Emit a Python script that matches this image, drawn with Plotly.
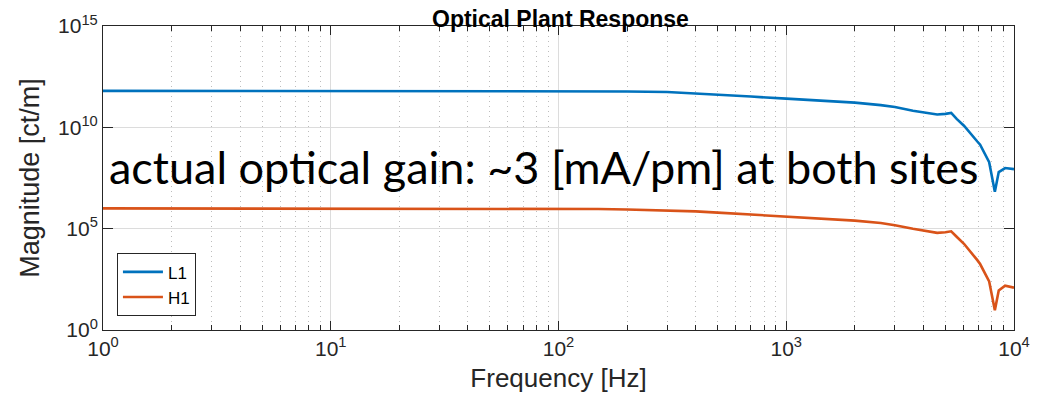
import plotly.graph_objects as go

# Frequency points [Hz]
freq = [1, 10, 100, 150, 200, 300, 400, 500, 700, 1000, 2000, 2600, 3000, 3600, 4100, 4600,
        5000, 5300, 5600, 6030, 6900, 7100, 7780, 7960, 8240, 8570, 9140, 10000]

# Magnitude [ct/m]
L1 = [6.3e11, 6.3e11, 6.2e11, 6.0e11, 5.9e11, 5.5e11, 4.7e11, 4.1e11, 3.3e11, 2.6e11,
      1.65e11, 1.25e11, 1.0e11, 6.6e10, 5.1e10, 4.3e10, 4.6e10, 5.1e10, 2.6e10, 1.2e10,
      2.0e9, 1.4e9, 1.9e8, 4.9e7, 6.6e6, 6.2e7, 9.8e7, 8.7e7]
H1 = [1.0e6, 1.0e6, 9.5e5, 9.3e5, 8.9e5, 8.1e5, 7.1e5, 6.2e5, 5.0e5, 3.8e5,
      2.5e5, 1.9e5, 1.48e5, 9.8e4, 7.4e4, 6.2e4, 6.6e4, 7.4e4, 4.0e4, 1.8e4,
      2.8e3, 1.8e3, 250, 71, 9.3, 89, 155, 123]

x_tickvals = [1, 10, 100, 1000, 10000]
x_ticktext = ["10<sup>0</sup>", "10<sup>1</sup>", "10<sup>2</sup>", "10<sup>3</sup>", "10<sup>4</sup>"]
y_tickvals = [1, 1e5, 1e10, 1e15]
y_ticktext = ["10<sup>0</sup>", "10<sup>5</sup>", "10<sup>10</sup>", "10<sup>15</sup>"]

title_text = "Optical Plant Response"
xlabel = "Frequency [Hz]"
ylabel = "Magnitude [ct/m]"
note_text = "actual optical gain: ~3 [mA/pm] at both sites"

AX = "#262626"
FONT = "Liberation Sans, Arial, Helvetica, sans-serif"

fig = go.Figure()
fig.add_trace(go.Scatter(x=freq, y=L1, mode="lines", name="L1",
                         line=dict(color="#0072BD", width=2.6)))
fig.add_trace(go.Scatter(x=freq, y=H1, mode="lines", name="H1",
                         line=dict(color="#D95319", width=2.6)))

fig.update_layout(
    width=1042, height=399,
    margin=dict(l=103, r=25, t=22, b=69),
    paper_bgcolor="white", plot_bgcolor="white",
    font=dict(family=FONT, color=AX, size=22),
    showlegend=True,
    legend=dict(x=0.0153, y=0.045, xanchor="left", yanchor="bottom",
                bgcolor="white", bordercolor=AX, borderwidth=1,
                font=dict(size=17, color="black"),
                tracegroupgap=0, itemwidth=40),
)

fig.update_xaxes(
    type="log", range=[0, 4],
    tickmode="array", tickvals=x_tickvals, ticktext=x_ticktext,
    ticks="inside", ticklen=9, tickcolor=AX, tickwidth=1,
    showline=True, linecolor=AX, linewidth=1, mirror="ticks",
    showgrid=True, gridcolor="#dcdcdc", gridwidth=1,
    zeroline=False,
    tickfont=dict(size=21, color=AX),
    title=dict(text=xlabel, font=dict(size=26, color=AX), standoff=9),
    minor=dict(dtick="D1", ticks="inside", ticklen=5, tickcolor=AX,
               showgrid=True, gridcolor="#bdbdbd", griddash="1px,4px", gridwidth=1),
)
fig.update_yaxes(
    type="log", range=[0, 15],
    tickmode="array", tickvals=y_tickvals, ticktext=y_ticktext,
    ticks="inside", ticklen=10, tickcolor=AX, tickwidth=1,
    showline=True, linecolor=AX, linewidth=1, mirror="ticks",
    showgrid=True, gridcolor="#dcdcdc", gridwidth=1,
    zeroline=False,
    tickfont=dict(size=21, color=AX),
    title=dict(text=ylabel, font=dict(size=27, color=AX), standoff=10),
)

fig.add_annotation(text="<b>" + title_text + "</b>", xref="paper", yref="paper",
                   x=0.502, y=1.0714, xanchor="center", yanchor="top",
                   showarrow=False, font=dict(size=23, color="black", family=FONT))
fig.add_annotation(text=note_text, xref="paper", yref="paper",
                   x=0.484, y=0.535, xanchor="center", yanchor="middle",
                   showarrow=False,
                   font=dict(size=45, color="black", family="Lato, Carlito, sans-serif"))

fig.write_html("out.html")
